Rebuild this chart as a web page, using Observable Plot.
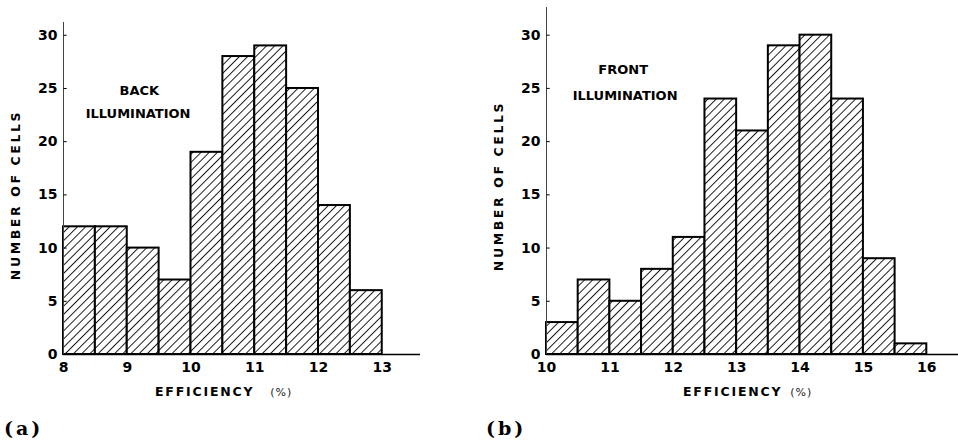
<!DOCTYPE html>
<html><head><meta charset="utf-8">
<script src="https://cdn.jsdelivr.net/npm/d3@7"></script>
<script src="https://cdn.jsdelivr.net/npm/@observablehq/plot@0.6"></script>
<style>
body{margin:0;background:#fff;width:958px;height:443px;overflow:hidden;position:relative;font-family:"DejaVu Sans",sans-serif;color:#000}
.panel{position:absolute;top:0;height:443px}
.ylab{position:absolute;font-weight:bold;font-size:12.5px;letter-spacing:2.6px;transform:translate(-50%,-50%) rotate(-90deg);white-space:nowrap}
.xlab{position:absolute;font-weight:bold;font-size:12.5px;letter-spacing:1.8px;white-space:nowrap;transform:translateY(-50%)}
.pct{font-weight:normal;font-size:11px;letter-spacing:1px;color:#222}
.tag{position:absolute;font-family:"DejaVu Serif",serif;font-weight:bold;font-size:19px;letter-spacing:3px;transform:translateY(-50%)}
</style></head><body>
<div id="a" class="panel" style="left:0;width:470px"></div>
<div id="b" class="panel" style="left:470px;width:488px"></div>
<div class="ylab" style="left:15px;top:195px">NUMBER OF CELLS</div>
<div class="ylab" style="left:498px;top:186px">NUMBER OF CELLS</div>
<div class="xlab" style="left:155px;top:391px">EFFICIENCY<span class="pct" style="margin-left:16px">(%)</span></div>
<div class="xlab" style="left:683px;top:391px">EFFICIENCY<span class="pct" style="margin-left:8px">(%)</span></div>
<div class="tag" style="left:4px;top:428px">(a)</div>
<div class="tag" style="left:486px;top:428px">(b)</div>
<script>
const binWidth = 0.5;
const backBinStart = [8, 8.5, 9, 9.5, 10, 10.5, 11, 11.5, 12, 12.5];
const backCounts   = [12, 12, 10, 7, 19, 28, 29, 25, 14, 6];
const frontBinStart = [10, 10.5, 11, 11.5, 12, 12.5, 13, 13.5, 14, 14.5, 15, 15.5];
const frontCounts   = [3, 7, 5, 8, 11, 24, 21, 29, 30, 24, 9, 1];
const backTicksX = [8, 9, 10, 11, 12, 13];
const frontTicksX = [10, 11, 12, 13, 14, 15, 16];
const yTicks = [0, 5, 10, 15, 20, 25, 30];
const backNotes = [{x: 9.19, y: 24.8, text: "BACK"}, {x: 9.17, y: 22.6, text: "ILLUMINATION"}];
const frontNotes = [{x: 11.21, y: 26.7, text: "FRONT"}, {x: 11.24, y: 24.3, text: "ILLUMINATION"}];

function panel({id, starts, counts, xDomain, yMax, width, marginLeft, marginRight, marginTop, xTicks, notes}) {
  const data = starts.map((s, i) => ({x1: s, x2: s + binWidth, y: counts[i]}));
  const x0 = xDomain[0];
  const pid = "hatch-" + id;
  const svg = Plot.plot({
    width, height: 443, marginLeft, marginRight, marginTop, marginBottom: 89,
    x: {domain: xDomain, axis: null},
    y: {domain: [0, yMax], axis: null},
    style: {fontFamily: "DejaVu Sans, sans-serif", fontWeight: "bold", color: "#000", background: "#fff", overflow: "visible"},
    marks: [
      Plot.rect(data, {x1: "x1", x2: "x2", y1: 0, y2: "y", fill: `url(#${pid})`, stroke: "#000", strokeWidth: 2}),
      Plot.ruleX([x0], {stroke: "#444", strokeWidth: 1}),
      Plot.ruleY([0], {stroke: "#000", strokeWidth: 1.5}),
      Plot.link(yTicks, {x1: () => x0, x2: () => x0 + 0.05, y1: d => d, y2: d => d, stroke: "#000", strokeWidth: 1}),
      Plot.text(yTicks, {x: () => x0, y: d => d, text: d => String(d), textAnchor: "end", dx: -6, fontSize: 14, fontWeight: "bold", fill: "#000", style: "letter-spacing:1px"}),
      Plot.text(xTicks, {x: d => d, y: () => 0, text: d => String(d), dy: 13, fontSize: 14, fontWeight: "bold", fill: "#000", style: "letter-spacing:1px"}),
      Plot.text(notes, {x: "x", y: "y", text: "text", fontSize: 13, fontWeight: "bold", fill: "#000", style: "letter-spacing:0.3px"})
    ]
  });
  const s = d3.select(svg);
  const pat = s.insert("defs", ":first-child").append("pattern")
    .attr("id", pid).attr("patternUnits", "userSpaceOnUse")
    .attr("width", 5.8).attr("height", 10).attr("patternTransform", "rotate(45)");
  pat.append("rect").attr("width", 5.8).attr("height", 10).attr("fill", "#fff");
  pat.append("line").attr("x1", 0.5).attr("y1", 0).attr("x2", 0.5).attr("y2", 10).attr("stroke", "#000").attr("stroke-width", 0.9);
  document.getElementById(id).appendChild(svg);
}

panel({id: "a", starts: backBinStart, counts: backCounts, xDomain: [8, 13.6], yMax: 31.2,
  width: 470, marginLeft: 63, marginRight: 50, marginTop: 22, xTicks: backTicksX, notes: backNotes});
panel({id: "b", starts: frontBinStart, counts: frontCounts, xDomain: [10, 16.5], yMax: 32.6,
  width: 488, marginLeft: 76, marginRight: 0, marginTop: 7, xTicks: frontTicksX, notes: frontNotes});
</script>
</body></html>
